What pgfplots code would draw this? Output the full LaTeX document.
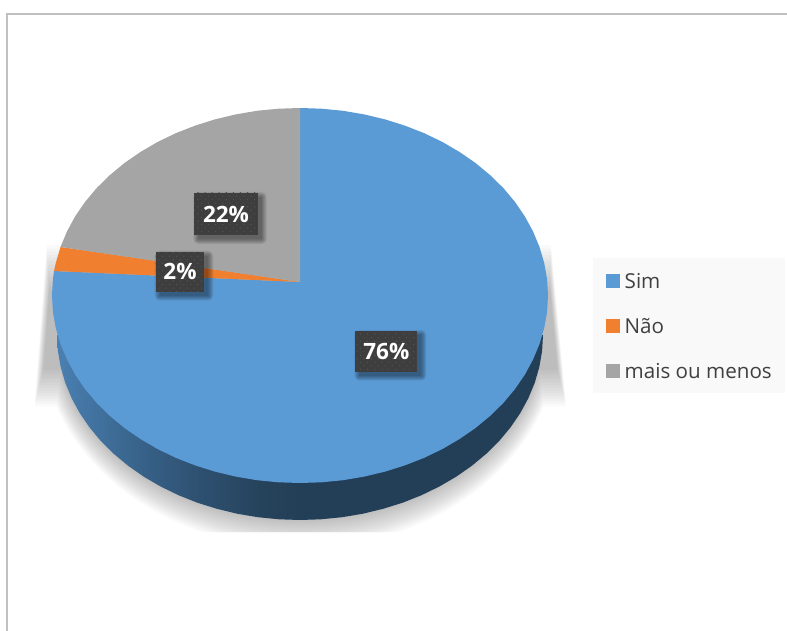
\documentclass[border=0pt]{standalone}
\usepackage{fontspec}
\setmainfont{Open Sans}
\usepackage{pgfplots}
\pgfplotsset{compat=1.18}
\usetikzlibrary{patterns.meta}

\definecolor{simblue}{HTML}{5B9BD5}
\definecolor{naoorange}{HTML}{F0802F}
\definecolor{maisgrey}{HTML}{A5A5A5}
\definecolor{labelbox}{HTML}{3E3E3E}
\definecolor{labeldot}{HTML}{525252}
\definecolor{frameline}{HTML}{C0C0C0}
\definecolor{legendbg}{HTML}{F9F9F9}
\definecolor{legendtext}{HTML}{404040}
\definecolor{rimA}{HTML}{4A80B2}
\definecolor{rimB}{HTML}{40709C}
\definecolor{rimC}{HTML}{365F85}
\definecolor{rimD}{HTML}{2E5070}
\definecolor{rimE}{HTML}{26435C}
\definecolor{rimF}{HTML}{233F57}

% Rim of the pie: lighter on the left, dark from the centre onwards
\pgfdeclarehorizontalshading{rimshade}{100bp}{
  color(0bp)=(rimA);
  color(25bp)=(rimA);
  color(29.4bp)=(rimB);
  color(34.6bp)=(rimC);
  color(39.7bp)=(rimD);
  color(45.9bp)=(rimE);
  color(50bp)=(rimF);
  color(100bp)=(rimF)}

% Value label: dark dotted box with a soft drop shadow
\newcommand{\valuelabel}[5]{%
  \foreach \k in {5,4,...,0}{%
    \pgfmathsetmacro{\xa}{#1+4-\k}\pgfmathsetmacro{\ya}{#2+4-\k}%
    \pgfmathsetmacro{\xb}{#3+4+\k}\pgfmathsetmacro{\yb}{#4+4+\k}%
    \fill[black,opacity=.08,rounded corners=\k pt]
      (axis cs:\xa,\ya) rectangle (axis cs:\xb,\yb);
  }%
  \fill[labelbox] (axis cs:#1,#2) rectangle (axis cs:#3,#4);
  \fill[pattern={Dots[radius=.75pt,distance=5pt,angle=45]},pattern color=labeldot]
    (axis cs:#1,#2) rectangle (axis cs:#3,#4);
  \pgfmathsetmacro{\xm}{(#1+#3)/2}\pgfmathsetmacro{\ym}{(#2+#4)/2}%
  \node[text=white,font=\fontsize{22.5}{22.5}\selectfont\bfseries,inner sep=0pt]
    at (axis cs:\xm,\ym) {#5};
}

\begin{document}
\begin{tikzpicture}
\useasboundingbox (0,0) rectangle (787pt,631pt);
\begin{axis}[
  at={(0,0)},anchor=south west,
  scale only axis,
  width=787pt,height=631pt,
  xmin=0,xmax=787,ymin=0,ymax=631,
  y dir=reverse,
  axis lines=none,
  area legend,
  legend cell align=left,
  legend image code/.code={\fill[#1] (0pt,-6.8pt) rectangle (13.5pt,6.8pt);},
  legend style={
    at={(axis cs:593,258)},anchor=north west,
    draw=none,fill=legendbg,text=legendtext,
    font=\fontsize{20.6}{20.6}\selectfont,
    inner xsep=13pt,inner ysep=10.5pt,
    row sep=21pt,
    nodes={inner sep=0pt,text height=19.5pt,text depth=4.5pt},
    /tikz/every odd column/.append style={column sep=5pt},
  },
]
% Frame along the top and left edges
\pgfplotsextra{
  \draw[frameline,line width=2pt] (axis cs:6.8,631) -- (axis cs:6.8,14) -- (axis cs:787,14);
}

% Soft shadow beneath the pie: stacked layers, each a little larger than the last
\pgfplotsextra{
  \foreach \k in {0,...,14}{
    \pgfmathsetmacro{\lt}{54-.43*\k}\pgfmathsetmacro{\lb}{41-.43*\k}
    \pgfmathsetmacro{\rt}{544.5+.36*\k}\pgfmathsetmacro{\rb}{560.5+.36*\k}
    \pgfmathsetmacro{\ytop}{290-3.2*\k}\pgfmathsetmacro{\ybot}{370+2.6*\k}
    \pgfmathsetmacro{\rx}{243+1.1*\k}\pgfmathsetmacro{\ry}{185+2*\k}
    \begin{scope}
      \clip (axis cs:\lt,230) -- (axis cs:\lb,400) -- (axis cs:\lb,532)
        -- (axis cs:\rb,532) -- (axis cs:\rb,400) -- (axis cs:\rt,230) -- cycle;
      \fill[black,opacity=.019]
        (axis cs:0,\ytop) -- (axis cs:0,\ybot) -- (axis cs:787,\ybot) -- (axis cs:787,\ytop) -- cycle
        (axis cs:300,335) ellipse [x radius=\rx pt,y radius=\ry pt];
    \end{scope}
  }
}

% Rim of the pie
\pgfplotsextra{
  \path[shading=rimshade]
  (axis cs:543,335) -- (axis cs:542.1,351.1) -- (axis cs:539.3,367.1) -- (axis cs:534.7,382.9)
  -- (axis cs:528.3,398.3) -- (axis cs:520.2,413.2) -- (axis cs:510.4,427.5) -- (axis cs:499.1,441.1)
  -- (axis cs:486.1,453.9) -- (axis cs:471.8,465.8) -- (axis cs:456.2,476.7) -- (axis cs:439.4,486.5)
  -- (axis cs:421.5,495.2) -- (axis cs:402.7,502.7) -- (axis cs:383.1,508.8) -- (axis cs:362.9,513.7)
  -- (axis cs:342.2,517.2) -- (axis cs:321.2,519.3) -- (axis cs:300,520)
  -- (axis cs:278.8,519.3) -- (axis cs:257.8,517.2) -- (axis cs:237.1,513.7) -- (axis cs:216.9,508.8)
  -- (axis cs:197.3,502.7) -- (axis cs:178.5,495.2) -- (axis cs:160.6,486.5) -- (axis cs:143.8,476.7)
  -- (axis cs:128.2,465.8) -- (axis cs:113.9,453.9) -- (axis cs:100.9,441.1) -- (axis cs:89.6,427.5)
  -- (axis cs:79.8,413.2) -- (axis cs:71.7,398.3) -- (axis cs:65.3,382.9) -- (axis cs:60.7,367.1)
  -- (axis cs:57.9,351.1) -- (axis cs:57,335) -- cycle;
}

% Sim: 76 %
\addplot[fill=simblue,draw=none] coordinates {
  (300,282) (300,108)
  (321.6,108.7) (343.1,110.8) (364.2,114.4) (384.8,119.3) (404.8,125.6) (424,133.1)
  (442.3,141.9) (459.4,151.9) (475.4,162.9) (490,175) (503.2,187.9) (514.8,201.7)
  (524.8,216.3) (533,231.4) (539.5,247) (544.2,262.9) (547.1,279.2) (548,295.5)
  (547.1,311.8) (544.2,328.1) (539.5,344) (533,359.6) (524.8,374.7) (514.8,389.3)
  (503.2,403.1) (490,416) (475.4,428.1) (459.4,439.1) (442.3,449.1) (424,457.9)
  (404.8,465.4) (384.8,471.7) (364.2,476.6) (343.1,480.2) (321.6,482.3) (300,483)
  (278.4,482.3) (256.9,480.2) (235.8,476.6) (215.2,471.7) (195.2,465.4) (176,457.9)
  (157.7,449.1) (140.6,439.1) (124.6,428.1) (110,416) (96.8,403.1) (85.2,389.3)
  (75.2,374.7) (67,359.6) (60.5,344) (55.8,328.1) (52.9,311.8) (52,295.5)
  (52.9,279.2) (54,271)
} -- cycle;
\addlegendentry{Sim}

% Não: 2 %
\addplot[fill=naoorange,draw=none] coordinates {
  (300,282) (54,271) (55.8,262.9) (60.5,247)
} -- cycle;
\addlegendentry{Não}

% mais ou menos: 22 %
\addplot[fill=maisgrey,draw=none] coordinates {
  (300,282) (60.5,247) (67,231.4) (75.2,216.3) (85.2,201.7) (96.8,187.9) (110,175)
  (124.6,162.9) (140.6,151.9) (157.7,141.9) (176,133.1) (195.2,125.6) (215.2,119.3)
  (235.8,114.4) (256.9,110.8) (278.4,108.7) (300,108)
} -- cycle;
\addlegendentry{mais ou menos}

% Value labels
\pgfplotsextra{
  \valuelabel{355.3}{331}{417.3}{371.7}{76\%}
  \valuelabel{194.3}{193}{257.7}{235}{22\%}
  \valuelabel{155.7}{251.7}{204.3}{291.7}{2\%}
}
\end{axis}
\end{tikzpicture}
\end{document}
